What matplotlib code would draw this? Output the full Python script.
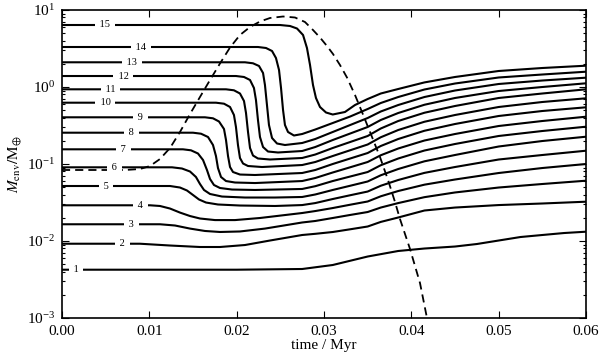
import matplotlib
matplotlib.use("Agg")
import matplotlib.pyplot as plt
from matplotlib.ticker import LogLocator, NullFormatter, FixedLocator

plt.rcParams['font.family'] = ['Liberation Serif', 'DejaVu Serif']
plt.rcParams['mathtext.fontset'] = 'stix'

# ---- data (time in Myr, envelope mass in Earth masses) ----
t1 = [0, 0.02, 0.0275, 0.031, 0.035, 0.0385, 0.0415, 0.045, 0.0475, 0.05, 0.0525, 0.055, 0.0575, 0.06]
m1 = [0.00424, 0.00424, 0.00433, 0.00488, 0.00629, 0.00742, 0.00799, 0.00848, 0.00914, 0.01015, 0.01127, 0.01197, 0.01270, 0.01321]

t2 = [0, 0.00893, 0.01237, 0.01580, 0.01809, 0.02095, 0.02382, 0.0275, 0.029, 0.031, 0.033, 0.035, 0.0365, 0.0385, 0.0415, 0.045, 0.05, 0.055, 0.06]
m2 = [0.00922, 0.00922, 0.00874, 0.00836, 0.00836, 0.00887, 0.01015, 0.01197, 0.0124, 0.01309, 0.0142, 0.01543, 0.0177, 0.0202, 0.0249, 0.0272, 0.0293, 0.0307, 0.0324]

t3 = [0, 0.01122, 0.01294, 0.01466, 0.01637, 0.01809, 0.02038, 0.02324, 0.0275, 0.029, 0.031, 0.033, 0.035, 0.0365, 0.0385, 0.0415, 0.045, 0.05, 0.055, 0.06]
m3 = [0.0165, 0.0165, 0.0159, 0.0145, 0.0135, 0.0131, 0.0133, 0.0145, 0.0174, 0.0182, 0.0199, 0.0218, 0.0238, 0.0272, 0.0311, 0.0371, 0.0427, 0.0495, 0.0550, 0.0607]

t4 = [0, 0.01008, 0.01122, 0.01237, 0.01351, 0.01466, 0.01580, 0.01752, 0.01981, 0.02267, 0.0275, 0.029, 0.031, 0.033, 0.035, 0.0365, 0.0385, 0.0415, 0.045, 0.05, 0.055, 0.06]
m4 = [0.0291, 0.0291, 0.0285, 0.0264, 0.0234, 0.0211, 0.0196, 0.0187, 0.0187, 0.0199, 0.0231, 0.0245, 0.0268, 0.0296, 0.0326, 0.0381, 0.0446, 0.0539, 0.0629, 0.0764, 0.0887, 0.100]

t5 = [0, 0.01237, 0.01351, 0.01431, 0.01500, 0.01569, 0.01649, 0.01786, 0.02038, 0.02439, 0.0275, 0.029, 0.031, 0.033, 0.035, 0.0365, 0.0385, 0.0415, 0.045, 0.05, 0.055, 0.06]
m5 = [0.0518, 0.0518, 0.0495, 0.0453, 0.0396, 0.0346, 0.0316, 0.0298, 0.0289, 0.0285, 0.0293, 0.0311, 0.0351, 0.0393, 0.0439, 0.0522, 0.0620, 0.0767, 0.0914, 0.1144, 0.1309, 0.1488]

t6 = [0, 0.01260, 0.01374, 0.01466, 0.01534, 0.01580, 0.01626, 0.01695, 0.01832, 0.02095, 0.02439, 0.0275, 0.029, 0.031, 0.033, 0.035, 0.0365, 0.0385, 0.0415, 0.045, 0.05, 0.055, 0.06]
m6 = [0.0906, 0.0906, 0.0874, 0.0799, 0.0678, 0.0550, 0.0460, 0.0408, 0.0378, 0.0367, 0.0367, 0.0373, 0.0402, 0.0460, 0.0522, 0.0593, 0.0714, 0.0861, 0.1084, 0.1309, 0.1688, 0.1989, 0.2262]

t7 = [0, 0.01385, 0.01477, 0.01557, 0.01615, 0.01660, 0.01695, 0.01740, 0.01809, 0.01947, 0.02210,
      0.0275, 0.029, 0.031, 0.033, 0.035, 0.0365, 0.0385, 0.0415, 0.045, 0.05, 0.055, 0.06]
m7 = [0.1552, 0.1552, 0.1506, 0.1369, 0.1127, 0.0836, 0.0639, 0.0534, 0.0488, 0.0466, 0.0460,
      0.0474, 0.0515, 0.0601, 0.0688, 0.0787, 0.0964, 0.1179, 0.1497, 0.1819, 0.2311, 0.2683, 0.3051]

t8 = [0, 0.01500, 0.01592, 0.01672, 0.01729, 0.01763, 0.01786, 0.01821, 0.01878, 0.01981, 0.02210,
      0.0275, 0.029, 0.031, 0.033, 0.035, 0.0365, 0.0385, 0.0415, 0.045, 0.05, 0.055, 0.06]
m8 = [0.2550, 0.2550, 0.2474, 0.2242, 0.1765, 0.1270, 0.0887, 0.0678, 0.0601, 0.0575, 0.0566,
      0.0601, 0.0658, 0.0776, 0.0907, 0.1062, 0.1299, 0.1590, 0.2019, 0.2452, 0.3115, 0.3618, 0.4114]

t9 = [0, 0.01637, 0.01729, 0.01798, 0.01855, 0.01878, 0.01901, 0.01924, 0.01958, 0.02038, 0.02210,
      0.0275, 0.029, 0.031, 0.033, 0.035, 0.0365, 0.0385, 0.0415, 0.045, 0.05, 0.055, 0.06]
m9 = [0.4042, 0.4042, 0.3922, 0.3564, 0.2848, 0.2049, 0.1270, 0.0914, 0.0787, 0.0730, 0.0720,
      0.0764, 0.0836, 0.100, 0.1179, 0.1389, 0.1713, 0.2112, 0.2703, 0.3307, 0.4202, 0.4880, 0.5450]

t10 = [0, 0.01763, 0.01855, 0.01924, 0.01969, 0.01992, 0.02015, 0.02038, 0.02073, 0.02130, 0.02290,
       0.0275, 0.029, 0.031, 0.033, 0.035, 0.0365, 0.0385, 0.0415, 0.045, 0.05, 0.055, 0.06]
m10 = [0.6254, 0.6254, 0.6070, 0.550, 0.4329, 0.3024, 0.1765, 0.1197, 0.1015, 0.0942, 0.0914,
       0.0970, 0.1062, 0.1270, 0.1509, 0.1792, 0.2225, 0.2764, 0.3538, 0.4329, 0.550, 0.6387, 0.7133]

t11 = [0, 0.01878, 0.01969, 0.02038, 0.02084, 0.02107, 0.02130, 0.02153, 0.02187, 0.02244, 0.02382,
       0.0275, 0.029, 0.031, 0.033, 0.035, 0.0365, 0.0385, 0.0415, 0.045, 0.05, 0.055, 0.06]
m11 = [0.9335, 0.9335, 0.9061, 0.8233, 0.6579, 0.4596, 0.2604, 0.1614, 0.1289, 0.1179, 0.1144,
       0.1197, 0.1328, 0.1614, 0.1931, 0.2311, 0.2891, 0.3618, 0.4631, 0.5666, 0.720, 0.8233, 0.9335]

t12 = [0, 0.01992, 0.02084, 0.02153, 0.02198, 0.02221, 0.02244, 0.02267, 0.02302, 0.02359, 0.02473,
       0.0275, 0.029, 0.031, 0.033, 0.035, 0.0365, 0.0385, 0.0415, 0.045, 0.05, 0.055, 0.06]
m12 = [1.389, 1.389, 1.349, 1.233, 0.9705, 0.6778, 0.3728, 0.2242, 0.1662, 0.1453, 0.1411,
       0.1475, 0.1662, 0.2049, 0.2489, 0.3024, 0.3728, 0.4596, 0.5881, 0.720, 0.8872, 1.0, 1.117]

t13 = [0, 0.02095, 0.02187, 0.02256, 0.02302, 0.02324, 0.02347, 0.02370, 0.02405, 0.02462, 0.02553,
       0.0275, 0.029, 0.031, 0.033, 0.035, 0.0365, 0.0385, 0.0415, 0.045, 0.05, 0.055, 0.06]
m13 = [2.094, 2.094, 2.032, 1.874, 1.520, 1.062, 0.5837, 0.3210, 0.2176, 0.1846, 0.1765,
       0.1874, 0.2112, 0.2604, 0.3210, 0.3957, 0.4807, 0.5837, 0.7413, 0.9006, 1.094, 1.214, 1.321]

t14 = [0, 0.02244, 0.02336, 0.02405, 0.02450, 0.02485, 0.02508, 0.02531, 0.02553, 0.02588, 0.02656,
       0.0275, 0.029, 0.031, 0.033, 0.035, 0.0365, 0.0385, 0.0415, 0.045, 0.05, 0.055, 0.06]
m14 = [3.307, 3.307, 3.21, 2.935, 2.38, 1.663, 0.9705, 0.5027, 0.3210, 0.2604, 0.2345,
       0.2452, 0.2805, 0.3407, 0.4139, 0.5179, 0.6196, 0.7413, 0.928, 1.110, 1.329, 1.453, 1.580]

t15 = [0, 0.02496, 0.02611, 0.02691, 0.02760, 0.02805, 0.02840, 0.02874, 0.02908, 0.02954, 0.03023,
       0.0310, 0.03240, 0.03355, 0.035, 0.0365, 0.0385, 0.0415, 0.045, 0.05, 0.055, 0.06]
m15 = [6.385, 6.385, 6.197, 5.75, 4.735, 3.21, 1.931, 1.062, 0.720, 0.550, 0.4665,
       0.4394, 0.4735, 0.5837, 0.6984, 0.8233, 0.942, 1.147, 1.349, 1.614, 1.765, 1.891]

t_dash = [0, 0.00721, 0.00893, 0.01008, 0.01122, 0.01237, 0.01351, 0.01466, 0.01580, 0.01695,
          0.01809, 0.01924, 0.02038, 0.02153, 0.02267, 0.02382, 0.02531, 0.02668, 0.02782, 0.02874,
          0.02954, 0.03034, 0.03103, 0.03183, 0.03263, 0.03355, 0.03435, 0.03527, 0.03641, 0.03733,
          0.03813, 0.03870, 0.03985, 0.04099, 0.04179]
m_dash = [0.0836, 0.0836, 0.0861, 0.0942, 0.1161, 0.1614, 0.2604, 0.4459, 0.7413, 1.233,
          2.020, 3.258, 4.735, 6.015, 7.089, 7.873, 8.233, 7.991, 6.985, 5.499,
          4.394, 3.408, 2.683, 1.931, 1.329, 0.787, 0.4735, 0.2604, 0.1233, 0.0620,
          0.0321, 0.0193, 0.00787, 0.00285, 0.001]

curve_names = ['1', '2', '3', '4', '5', '6', '7', '8', '9', '10', '11', '12', '13', '14', '15']
label_t = [0.0016, 0.00695, 0.00798, 0.00901, 0.00504, 0.00599, 0.00702, 0.00798, 0.00901,
           0.00496, 0.00558, 0.00702, 0.00798, 0.00901, 0.00496]

x_ticks = [0.00, 0.01, 0.02, 0.03, 0.04, 0.05, 0.06]
x_ticklabels = ['0.00', '0.01', '0.02', '0.03', '0.04', '0.05', '0.06']

curves_t = [t1, t2, t3, t4, t5, t6, t7, t8, t9, t10, t11, t12, t13, t14, t15]
curves_m = [m1, m2, m3, m4, m5, m6, m7, m8, m9, m10, m11, m12, m13, m14, m15]

# ---- figure ----
fig = plt.figure(figsize=(6.0, 3.57), dpi=100)
ax = fig.add_axes([0.1033, 0.1092, 0.8734, 0.8628])

for t, m in zip(curves_t, curves_m):
    ax.plot(t, m, color='black', lw=1.5, solid_joinstyle='round', zorder=2)

ax.plot(t_dash, m_dash, color='black', lw=1.3, linestyle=(0, (4.5, 2.8)), zorder=2)

for name, lt, m in zip(curve_names, label_t, curves_m):
    ax.text(lt, m[0], ' ' + name + ' ', fontsize=7.5, ha='center', va='center',
            zorder=4, bbox=dict(boxstyle='square,pad=0.2', fc='white', ec='none'))

ax.set_yscale('log')
ax.set_xlim(0, 0.06)
ax.set_ylim(1e-3, 1e1)
ax.xaxis.set_major_locator(FixedLocator(x_ticks))
ax.set_xticklabels(x_ticklabels)
ax.yaxis.set_major_locator(LogLocator(base=10, numticks=10))
ax.yaxis.set_minor_locator(LogLocator(base=10, subs=range(2, 10), numticks=20))
ax.yaxis.set_minor_formatter(NullFormatter())

ax.tick_params(which='both', direction='in', top=True, right=True, labelsize=11, width=0.8)
ax.tick_params(which='major', length=5, pad=5)
ax.tick_params(which='minor', length=2.5)
for s in ax.spines.values():
    s.set_linewidth(1.2)

ax.set_xlabel('time / Myr', fontsize=11, labelpad=1)
ax.set_ylabel(r'$M_{\rm env}/{\rm M}_{\oplus}$', fontsize=11, labelpad=3)

fig.savefig('out.png', dpi=100)
